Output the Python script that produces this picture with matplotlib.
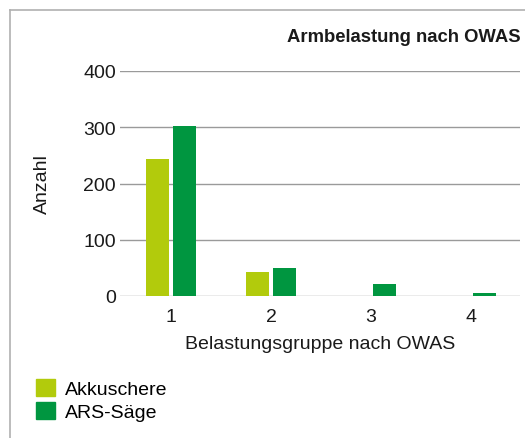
import matplotlib
matplotlib.use("Agg")
import matplotlib.pyplot as plt
from matplotlib.lines import Line2D
from matplotlib.patches import Patch
import numpy as np

plt.rcParams['font.family'] = ['Liberation Sans', 'DejaVu Sans']

categories = ["1", "2", "3", "4"]
akkuschere = [243, 42, 0, 0]
ars_saege = [302, 50, 22, 6]
yticks = [0, 100, 200, 300, 400]

c_akku = "#b2cb0c"
c_ars = "#009640"
tc = "#1a1a1a"

W, H = 525, 439
fig = plt.figure(figsize=(W/100, H/100), dpi=100)
ax = fig.add_axes([120/W, 1-297/H, (520-120)/W, (297-72)/H])

x = np.arange(1, len(categories)+1)
bw = 0.23
ax.bar(x - 0.135, akkuschere, width=bw, color=c_akku, label="Akkuschere", zorder=3)
ax.bar(x + 0.135, ars_saege, width=bw, color=c_ars, label="ARS-Säge", zorder=3)

ax.set_xlim(0.49, 4.49)
ax.set_ylim(0, 400)
ax.set_yticks(yticks)
ax.set_xticks(x)
ax.set_xticklabels(categories)
ax.tick_params(axis='both', length=0, labelsize=14, colors=tc)
ax.tick_params(axis='y', pad=3)
ax.tick_params(axis='x', pad=9)
ax.yaxis.grid(True, color="#9a9a9a", linewidth=1.0, zorder=0)
for s in ax.spines.values():
    s.set_visible(False)
ax.set_ylabel("Anzahl", fontsize=14, color=tc, labelpad=23)
ax.set_xlabel("Belastungsgruppe nach OWAS", fontsize=14, color=tc, labelpad=7)

fig.text(521/W, 1-37/H, "Armbelastung nach OWAS", ha="right", va="center",
         fontsize=13.3, fontweight="bold", color=tc)

# frame
fig.add_artist(Line2D([10/W, 10/W], [0, 1-11/H], color="#b0b0b0", lw=1.2, transform=fig.transFigure))
fig.add_artist(Line2D([10/W, 1], [1-11/H, 1-11/H], color="#b0b0b0", lw=1.2, transform=fig.transFigure))

handles = [Patch(color=c_akku, label="Akkuschere"), Patch(color=c_ars, label="ARS-Säge")]
fig.legend(handles=handles, loc="upper left", bbox_to_anchor=(28/W, 1-372/H),
           frameon=False, fontsize=14, handlelength=1.0, handleheight=1.0,
           handletextpad=0.5, labelspacing=0.2, borderaxespad=0)

fig.savefig("out.png", dpi=100)
